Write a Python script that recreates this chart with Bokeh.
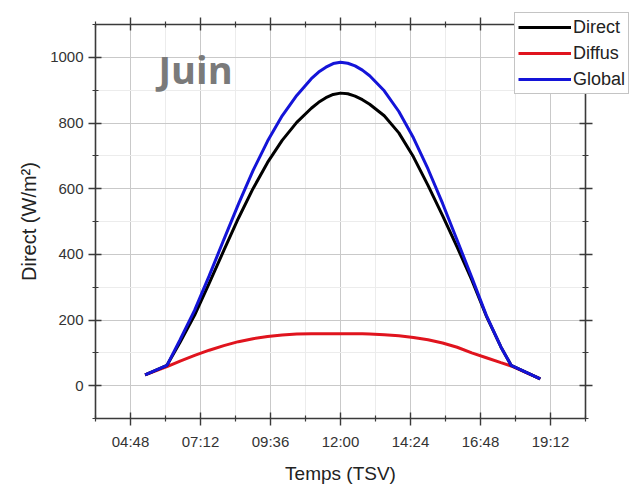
from bokeh.plotting import figure
from bokeh.models import (FixedTicker, CustomJSTickFormatter, LinearAxis, Legend,
                          LegendItem, Label, Range1d)
from bokeh.embed import file_html
from bokeh.resources import INLINE

# Time in hours (TSV)
hours = [5.3, 6.05, 6.5, 7.0, 7.5, 8.0, 8.5, 9.0, 9.5, 10.0, 10.5, 11.0, 11.25, 11.5, 11.75,
         12.0, 12.25, 12.5, 12.75, 13.0, 13.5, 14.0, 14.5, 15.0, 15.5, 16.0, 16.5, 17.0,
         17.5, 17.85, 18.85]
direct = [33, 62, 132, 215, 312, 412, 510, 600, 680, 747, 802, 845, 863, 877, 887,
          891, 889, 882, 871, 857, 822, 770, 697, 610, 518, 422, 322, 212,
          118, 62, 21]
diffus = [33, 58, 75, 92, 108, 122, 134, 143, 150, 154, 157, 158, 158, 158, 158,
          158, 158, 158, 158, 157, 155, 152, 147, 140, 130, 117, 100, 85,
          70, 60, 21]
global_ = [33, 62, 140, 230, 335, 445, 553, 655, 745, 822, 884, 935, 955, 970, 981,
           985, 982, 974, 961, 944, 898, 835, 755, 660, 555, 443, 330, 214,
           118, 62, 21]

series_labels = ["Direct", "Diffus", "Global"]
x_major = [4.8, 7.2, 9.6, 12.0, 14.4, 16.8, 19.2]
x_minor = [3.6, 6.0, 8.4, 10.8, 13.2, 15.6, 18.0, 20.4]
y_major = [0, 200, 400, 600, 800, 1000]
y_minor = [-100, 100, 300, 500, 700, 900, 1100]

FONT = "Liberation Sans"
AX = "#3a3a3a"
C_DIR, C_DIF, C_GLO = "#000000", "#e0141e", "#1414d8"

p = figure(width=641, height=487, x_range=Range1d(3.6, 20.4), y_range=Range1d(-100, 1100),
           output_backend="svg", toolbar_location=None,
           min_border_left=95, min_border_right=56, min_border_top=24, min_border_bottom=69)
p.outline_line_color = None
p.background_fill_color = "white"
p.border_fill_color = "white"

xt = FixedTicker(ticks=x_major, minor_ticks=x_minor)
yt = FixedTicker(ticks=y_major, minor_ticks=y_minor)
fmt = CustomJSTickFormatter(code="""
const m = Math.round(tick*60); const h = Math.floor(m/60); const mm = m % 60;
return String(h).padStart(2,'0') + ':' + String(mm).padStart(2,'0');
""")
blank = CustomJSTickFormatter(code="return '';")

def style_axis(ax):
    ax.axis_line_color = AX
    ax.axis_line_width = 1.6
    ax.major_tick_line_color = AX
    ax.minor_tick_line_color = AX
    ax.major_tick_line_width = 1.4
    ax.minor_tick_line_width = 1.2
    ax.major_tick_in = 6
    ax.major_tick_out = 7
    ax.minor_tick_in = 3
    ax.minor_tick_out = 3
    ax.major_label_text_font = FONT
    ax.major_label_text_font_size = "15px"
    ax.major_label_text_color = "#333333"

xa = p.xaxis[0]
xa.ticker = xt
xa.formatter = fmt
style_axis(xa)
xa.major_label_standoff = 7
xa.axis_label = "Temps (TSV)"
xa.axis_label_text_font = FONT
xa.axis_label_text_font_size = "19px"
xa.axis_label_text_font_style = "normal"
xa.axis_label_text_color = "#222222"
xa.axis_label_standoff = 10

ya = p.yaxis[0]
ya.ticker = yt
style_axis(ya)
ya.major_label_standoff = 5
ya.axis_label = "Direct (W/m²)"
ya.axis_label_text_font = FONT
ya.axis_label_text_font_size = "20px"
ya.axis_label_text_font_style = "normal"
ya.axis_label_text_color = "#222222"
ya.axis_label_standoff = 7

top = LinearAxis(ticker=xt, formatter=blank)
style_axis(top)
top.major_label_standoff = 0
p.add_layout(top, "above")
right = LinearAxis(ticker=yt, formatter=blank)
style_axis(right)
right.major_label_standoff = 0
p.add_layout(right, "right")

p.xgrid.ticker = xt
p.ygrid.ticker = yt
for g in (p.xgrid[0], p.ygrid[0]):
    g.grid_line_color = "#c9c9c9"
    g.grid_line_width = 1
    g.minor_grid_line_color = "#ececec"
    g.minor_grid_line_width = 1

p.line(hours, diffus, line_color=C_DIF, line_width=3)
p.line(hours, direct, line_color=C_DIR, line_width=3)
p.line(hours, global_, line_color=C_GLO, line_width=3)

juin = Label(x=5.76, y=964, text="Juin", text_font="Open Sans", text_font_style="bold",
             text_font_size="38px", text_color="#7a7a7a", text_baseline="alphabetic")
p.add_layout(juin)

# Legend: a separate small root figure laid over the main one, so that its box can
# extend past the plot frame as in the reference. Its own copies of the series are
# kept out of view (x range far from the data); only the legend box shows.
lf = figure(width=128, height=83, x_range=Range1d(100, 101), y_range=Range1d(0, 1),
            x_axis_location=None, y_axis_location=None, title=None,
            output_backend="svg", toolbar_location=None, min_border=0,
            styles={"position": "absolute", "left": "513px", "top": "11px"})
lf.grid.visible = False
lf.outline_line_color = None
lf.background_fill_alpha = 0
lf.border_fill_alpha = 0
r_dir = lf.line(hours, direct, line_color=C_DIR, line_width=3)
r_dif = lf.line(hours, diffus, line_color=C_DIF, line_width=3)
r_glo = lf.line(hours, global_, line_color=C_GLO, line_width=3)
legend = Legend(items=[LegendItem(label=series_labels[0], renderers=[r_dir]),
                       LegendItem(label=series_labels[1], renderers=[r_dif]),
                       LegendItem(label=series_labels[2], renderers=[r_glo])],
                location="top_left", padding=3, spacing=4, margin=1,
                glyph_width=53, glyph_height=22, label_height=22, label_standoff=2,
                label_text_font=FONT, label_text_font_size="18px", label_text_color="#222222",
                border_line_color="#8a8a8a", border_line_width=1,
                background_fill_color="white", background_fill_alpha=1.0)
lf.add_layout(legend, "left")

open("out.html", "w").write(file_html([p, lf], INLINE))
